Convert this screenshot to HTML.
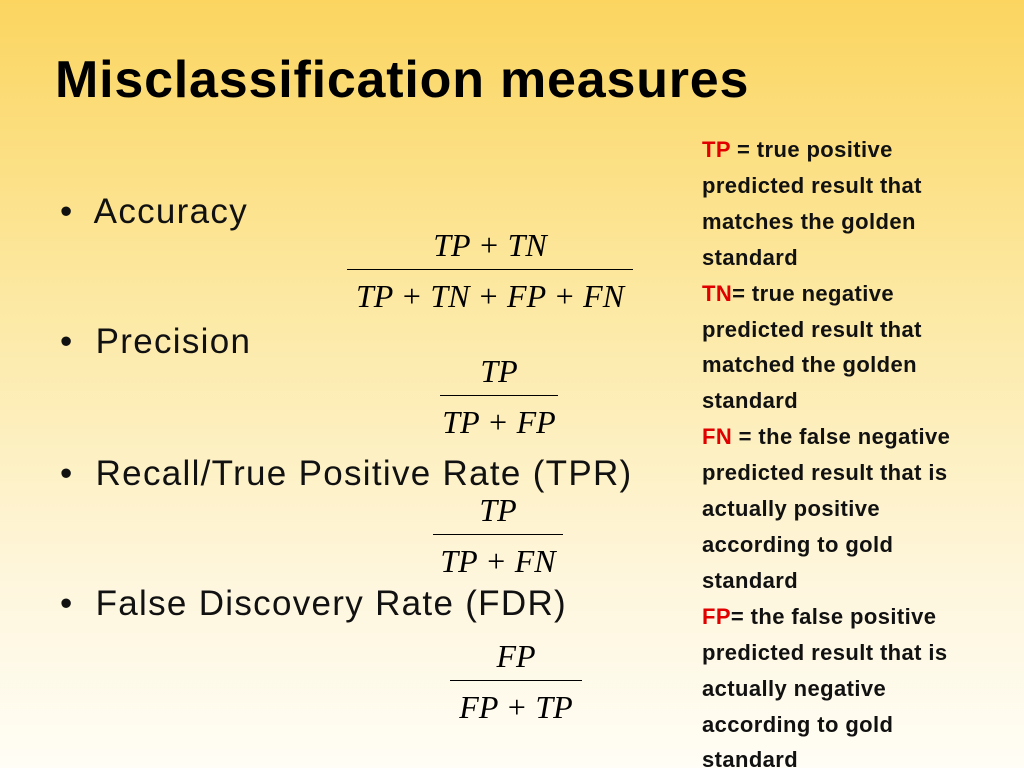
<!DOCTYPE html>
<html><head><meta charset="utf-8"><style>
html,body{margin:0;width:1024px;height:768px;overflow:hidden}
body{font-family:"Liberation Sans",sans-serif;
background:linear-gradient(to bottom,#fbd560 0%,#fce9a4 40%,#fef6dc 75%,#fffdf5 100%);position:relative}
.a{position:absolute;white-space:nowrap}
h1{position:absolute;left:55px;top:50px;margin:0;font-size:52px;font-weight:bold;color:#000;letter-spacing:0.8px}
.b{font-size:35px;color:#111;letter-spacing:1.3px}
.f{font-family:"Liberation Serif",serif;font-style:italic;font-size:32px;text-align:center;position:absolute;line-height:36px}
.f .n{border-bottom:1.5px solid #000;padding-bottom:6px;margin-bottom:8px}
.g{position:absolute;left:702px;top:132px;font-size:22px;font-weight:bold;line-height:35.9px;color:#111;letter-spacing:0.4px;white-space:nowrap}
.r{color:#e00000}
</style></head><body>
<h1>Misclassification measures</h1>
<div class="a b" style="left:60px;top:192px">•&nbsp; Accuracy</div>
<div class="a b" style="left:60px;top:322px">•&nbsp; Precision</div>
<div class="a b" style="left:60px;top:454px">•&nbsp; Recall/True Positive Rate (TPR)</div>
<div class="a b" style="left:60px;top:584px">•&nbsp; False Discovery Rate (FDR)</div>

<div class="f" style="left:347px;top:227px;width:286px"><div class="n">TP + TN</div><div>TP + TN + FP + FN</div></div>
<div class="f" style="left:440px;top:353px;width:118px"><div class="n">TP</div><div>TP + FP</div></div>
<div class="f" style="left:433px;top:492px;width:130px"><div class="n">TP</div><div>TP + FN</div></div>
<div class="f" style="left:450px;top:638px;width:132px"><div class="n">FP</div><div>FP + TP</div></div>

<div class="g">
<span class="r">TP</span> = true positive<br>predicted result that<br>matches the golden<br>standard<br>
<span class="r">TN</span>= true negative<br>predicted result that<br>matched the golden<br>standard<br>
<span class="r">FN</span> = the false negative<br>predicted result that is<br>actually positive<br>according to gold<br>standard<br>
<span class="r">FP</span>= the false positive<br>predicted result that is<br>actually negative<br>according to gold<br>standard
</div>
</body></html>
